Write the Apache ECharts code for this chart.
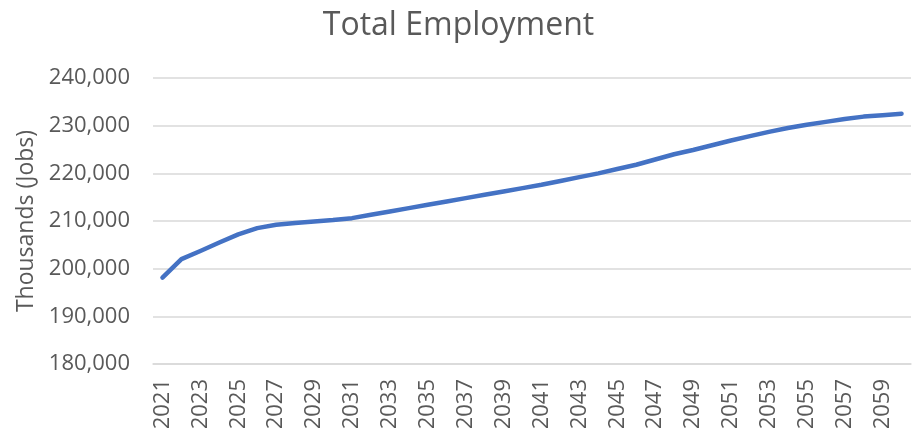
<!DOCTYPE html>
<html>
<head>
<meta charset="utf-8">
<script src="https://cdn.jsdelivr.net/npm/echarts@6/dist/echarts.min.js"></script>
<style>html,body{margin:0;padding:0;background:#fff}#c{width:917px;height:428px}</style>
</head>
<body>
<div id="c"></div>
<script>
const years = ["2021","2022","2023","2024","2025","2026","2027","2028","2029","2030",
"2031","2032","2033","2034","2035","2036","2037","2038","2039","2040",
"2041","2042","2043","2044","2045","2046","2047","2048","2049","2050",
"2051","2052","2053","2054","2055","2056","2057","2058","2059","2060"];
const totalEmployment = [198100,202000,203700,205500,207200,208500,209200,209600,209900,210200,
210600,211300,212000,212700,213400,214100,214800,215500,216200,216900,
217600,218400,219200,220000,220900,221800,222900,224000,224900,225900,
226900,227800,228700,229500,230200,230800,231400,231900,232200,232500];
const titleText = "Total Employment";
const yAxisName = "Thousands (Jobs)";

const FONT = "'Open Sans', 'Noto Sans', sans-serif";
const chart = echarts.init(document.getElementById('c'));
chart.setOption({
  animation: false,
  backgroundColor: '#fff',
  title: {
    text: titleText, left: 'center', top: 5,
    textStyle: {fontFamily: FONT, fontSize: 32, fontWeight: 'normal', color: '#595959'}
  },
  grid: {left: 153, right: 6, top: 78, bottom: 64, containLabel: false, outerBoundsMode: 'none'},
  xAxis: {
    type: 'category', data: years, boundaryGap: true,
    axisLine: {show: true, lineStyle: {color: '#d9d9d9', width: 1.5}},
    axisTick: {show: false},
    axisLabel: {interval: 1, rotate: 90, margin: 15, fontFamily: FONT, fontSize: 22, color: '#595959'}
  },
  yAxis: {
    type: 'value', min: 180000, max: 240000, interval: 10000,
    name: yAxisName, nameLocation: 'middle', nameGap: 96,
    nameTextStyle: {fontFamily: FONT, fontSize: 23, color: '#595959'},
    axisLine: {show: false}, axisTick: {show: false},
    splitLine: {lineStyle: {color: '#d9d9d9', width: 1.5}},
    axisLabel: {margin: 23, fontFamily: FONT, fontSize: 22, color: '#595959',
      formatter: v => v.toLocaleString('en-US')}
  },
  series: [{
    type: 'line', data: totalEmployment, symbol: 'none', smooth: false,
    lineStyle: {color: '#4472C4', width: 4.5, cap: 'round', join: 'round'}
  }]
});
</script>
</body>
</html>
